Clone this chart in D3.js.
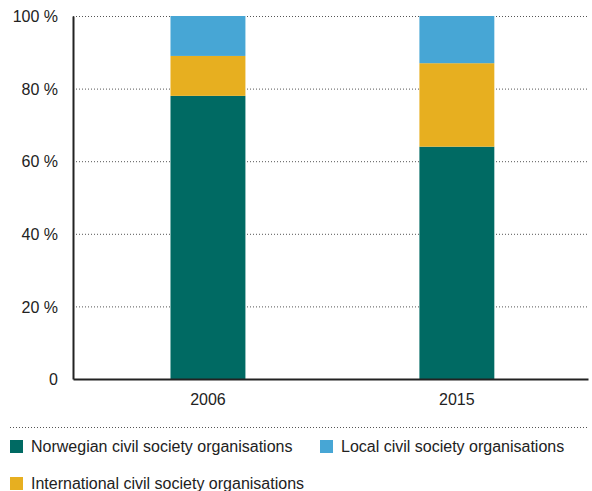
<!DOCTYPE html>
<html>
<head>
<meta charset="utf-8">
<script src="https://cdn.jsdelivr.net/npm/d3@7"></script>
<style>
  body { margin: 0; background: #fff; }
  svg text { font-family: "Liberation Sans", Arial, sans-serif; fill: #222; }
</style>
</head>
<body>
<script>
const years = ["2006", "2015"];
const seriesNames = [
  "Norwegian civil society organisations",
  "International civil society organisations",
  "Local civil society organisations"
];
const norwegian = [78, 64];
const international = [11, 23];
const local = [11, 13];
const yTicks = [0, 20, 40, 60, 80, 100];
const colors = ["#006a63", "#e7af20", "#47a6d5"];

const w = 592, h = 491;
const margin = { left: 73, right: 4, top: 16, bottom: 112 };

const svg = d3.select("body").append("svg")
  .attr("width", w)
  .attr("height", h);

// build rows for stacking
const rows = years.map((y, i) => ({
  year: y,
  nor: norwegian[i],
  int: international[i],
  loc: local[i]
}));
const stack = d3.stack().keys(["nor", "int", "loc"]);
const layers = stack(rows);

const x = d3.scaleBand()
  .domain(years)
  .range([margin.left, w - margin.right])
  .paddingInner(0.699)
  .paddingOuter(0.384)
  .align(0.51);

const y = d3.scaleLinear()
  .domain([0, 100])
  .range([h - margin.bottom, margin.top]);

// dotted grid lines
svg.append("g")
  .selectAll("line")
  .data(yTicks.filter(d => d > 0))
  .enter()
  .append("line")
  .attr("x1", margin.left)
  .attr("x2", w - margin.right)
  .attr("y1", d => y(d) + 0.5)
  .attr("y2", d => y(d) + 0.5)
  .attr("stroke", "#555")
  .attr("stroke-width", 1)
  .attr("stroke-dasharray", "1,2");

// bars
svg.append("g")
  .selectAll("g")
  .data(layers)
  .enter()
  .append("g")
  .attr("fill", (d, i) => colors[i])
  .selectAll("rect")
  .data(d => d)
  .enter()
  .append("rect")
  .attr("x", d => x(d.data.year))
  .attr("width", x.bandwidth())
  .attr("y", d => y(d[1]))
  .attr("height", d => y(d[0]) - y(d[1]));

// y axis
const yAxis = d3.axisLeft(y)
  .tickValues(yTicks)
  .tickSize(0)
  .tickPadding(15)
  .tickFormat(d => d === 0 ? "0" : d + " %");
const yg = svg.append("g")
  .attr("transform", `translate(${margin.left},0)`)
  .call(yAxis);
yg.select(".domain").attr("stroke", "#222").attr("stroke-width", 2);
yg.selectAll("text").style("font-size", "16px").attr("dy", "0.35em");

// x axis
const xAxis = d3.axisBottom(x).tickSize(0).tickPadding(15);
const xg = svg.append("g")
  .attr("transform", `translate(0,${h - margin.bottom})`)
  .call(xAxis);
xg.select(".domain").attr("stroke", "#222").attr("stroke-width", 2);
xg.selectAll("text").style("font-size", "16px");

// legend
svg.append("line")
  .attr("x1", 10)
  .attr("x2", w - margin.right)
  .attr("y1", 427.5)
  .attr("y2", 427.5)
  .attr("stroke", "#555")
  .attr("stroke-dasharray", "1,2");

const legendPos = [[10, 440], [10, 477], [320, 440]];
const legend = svg.append("g");
const items = legend.selectAll("g")
  .data(seriesNames)
  .enter()
  .append("g")
  .attr("transform", (d, i) => `translate(${legendPos[i][0]},${legendPos[i][1]})`);
items.append("rect")
  .attr("width", 13)
  .attr("height", 13)
  .attr("fill", (d, i) => colors[i]);
items.append("text")
  .attr("x", 21)
  .attr("y", 12)
  .style("font-size", "16px")
  .text(d => d);
</script>
</body>
</html>
